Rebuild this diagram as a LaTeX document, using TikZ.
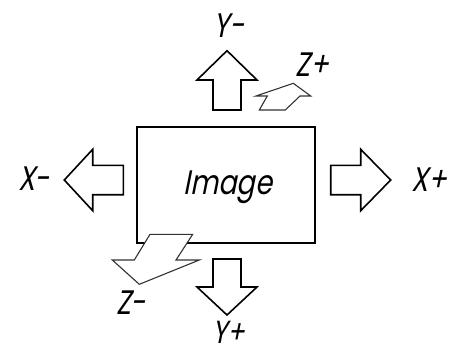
\documentclass[tikz,border=0pt]{standalone}
\usepackage{fontspec}
\setmainfont{Poppins}[FakeSlant=0.2, FakeStretch=0.8]
\tikzset{
  lbl/.style={font=\fontsize{34}{34}\selectfont, inner sep=0pt, anchor=base},
  bigarrow/.style={draw=black, line width=1.6pt, fill=white, line join=miter},
  zarrow/.style={draw=black!80, line width=1.1pt, fill=white, line join=miter}
}
\begin{document}
\begin{tikzpicture}[x=1pt, y=-1pt]
    \useasboundingbox (0,0) rectangle (454,354);

    % Image frame
    \node[draw, line width=2pt, minimum width=178pt, minimum height=116pt] (img) at (226,184.7) {};
    \node[lbl] (imgtxt) at (228,194) {Image};

    % In-plane arrows
    \draw[bigarrow] (213,110) -- (213,80) -- (197,80) -- (227,50.7) -- (257,80) -- (241,80) -- (241,110) -- cycle;
    \draw[bigarrow] (213,259) -- (241,259) -- (241,287) -- (257,287) -- (227,315) -- (197,287) -- (213,287) -- cycle;
    \draw[bigarrow] (123.3,165.3) -- (92.7,165.3) -- (92.7,149.3) -- (64.3,180) -- (92.7,210.7) -- (92.7,194.7) -- (123.3,194.7) -- cycle;
    \draw[bigarrow] (330.7,165.3) -- (360.7,165.3) -- (360.7,149.3) -- (390.7,180) -- (360.7,210.7) -- (360.7,194.7) -- (330.7,194.7) -- cycle;

    % Depth arrows
    \draw[zarrow] (256,96) -- (267.3,96) -- (259.3,110) -- (285.3,110) -- (300,96) -- (310.7,96) -- (293.3,83.3) -- cycle;
    \draw[zarrow] (150,234.3) -- (192.7,234.3) -- (176,260) -- (199.3,260) -- (139.3,284.3) -- (112.3,260) -- (134.3,260) -- cycle;

    % Labels
    \node[lbl] (yminus) at (229,37) {Y-};
    \node[lbl, font=\fontsize{32}{32}\selectfont] (yplus) at (229,343) {Y+};
    \node[lbl] (xminus) at (34,190) {X-};
    \node[lbl] (xplus) at (429,191) {X+};
    \node[lbl] (zplus) at (312,76) {Z+};
    \node[lbl] (zminus) at (131,314) {Z-};
\end{tikzpicture}
\end{document}
